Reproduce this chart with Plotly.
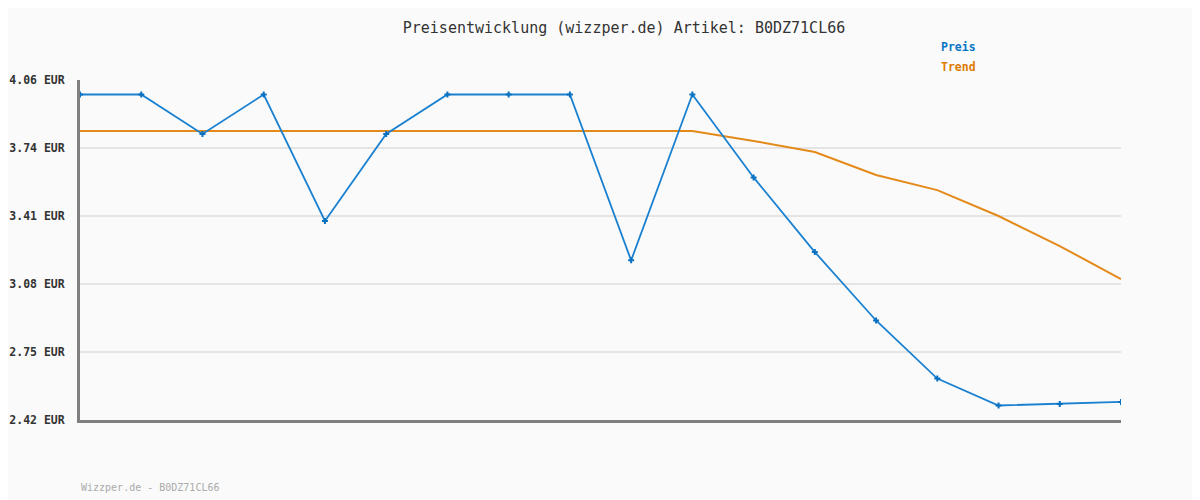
import plotly.graph_objects as go

x_idx = list(range(18))
preis = [3.99, 3.99, 3.80, 3.99, 3.38, 3.80, 3.99, 3.99, 3.99, 3.19, 3.99, 3.59, 3.23, 2.90, 2.62, 2.49, 2.497, 2.507]
trend = [3.814, 3.814, 3.814, 3.814, 3.814, 3.814, 3.814, 3.814, 3.814, 3.814, 3.814, 3.766, 3.713, 3.602, 3.529, 3.404, 3.259, 3.100]
tick_vals = [2.42, 2.748, 3.076, 3.404, 3.732, 4.06]
tick_text = ["2.42 EUR", "2.75 EUR", "3.08 EUR", "3.41 EUR", "3.74 EUR", "4.06 EUR"]

MONO = "DejaVu Sans Mono"
W, H = 1192, 492  # page body has an 8px margin
fig = go.Figure()
fig.add_trace(go.Scatter(x=x_idx, y=trend, mode="lines", line=dict(color="#e38a1a", width=2),
                         name="Trend", showlegend=False))
fig.add_trace(go.Scatter(x=x_idx, y=preis, mode="lines+markers", line=dict(color="#1a80d0", width=1.8),
                         marker=dict(symbol="cross", size=5, color="#0a70c0"),
                         name="Preis", showlegend=False))

fig.update_layout(
    width=W, height=H,
    paper_bgcolor="#fafafa", plot_bgcolor="#fafafa",
    margin=dict(l=72, r=79, t=72, b=80, autoexpand=False),
    title=dict(text="Preisentwicklung (wizzper.de) Artikel: B0DZ71CL66", x=(624 - 8) / W, xanchor="center",
               y=1 - 20 / H, yanchor="middle", font=dict(family=MONO, size=15, color="#333333")),
    xaxis=dict(range=[0, 17], showgrid=False, showticklabels=False, ticks="", zeroline=False,
               showline=True, linecolor="#808080", linewidth=3, automargin=False),
    yaxis=dict(range=[2.42, 4.06], tickvals=tick_vals, ticktext=tick_text, showgrid=True,
               gridcolor="#e4e4e4", gridwidth=2, zeroline=False, showline=True, automargin=False,
               linecolor="#808080", linewidth=3, ticks="", ticklabelstandoff=10,
               tickfont=dict(family=MONO, size=11.5, color="#333333", weight="bold")),
)

def px(xp):
    return (xp - 80) / 1041
def py(yp):
    return (420 - yp) / 340

fig.add_annotation(text="<b>Preis</b>", x=px(939), y=py(47), xref="paper", yref="paper", xanchor="left",
                   yanchor="middle", showarrow=False, font=dict(family=MONO, size=11.5, color="#0a74c4"))
fig.add_annotation(text="<b>Trend</b>", x=px(939), y=py(67), xref="paper", yref="paper", xanchor="left",
                   yanchor="middle", showarrow=False, font=dict(family=MONO, size=11.5, color="#dd7a00"))
fig.add_annotation(text="Wizzper.de - B0DZ71CL66", x=px(79), y=py(487), xref="paper", yref="paper",
                   xanchor="left", yanchor="middle", showarrow=False,
                   font=dict(family=MONO, size=10, color="#aaaaaa"))

fig.write_html("out.html")
